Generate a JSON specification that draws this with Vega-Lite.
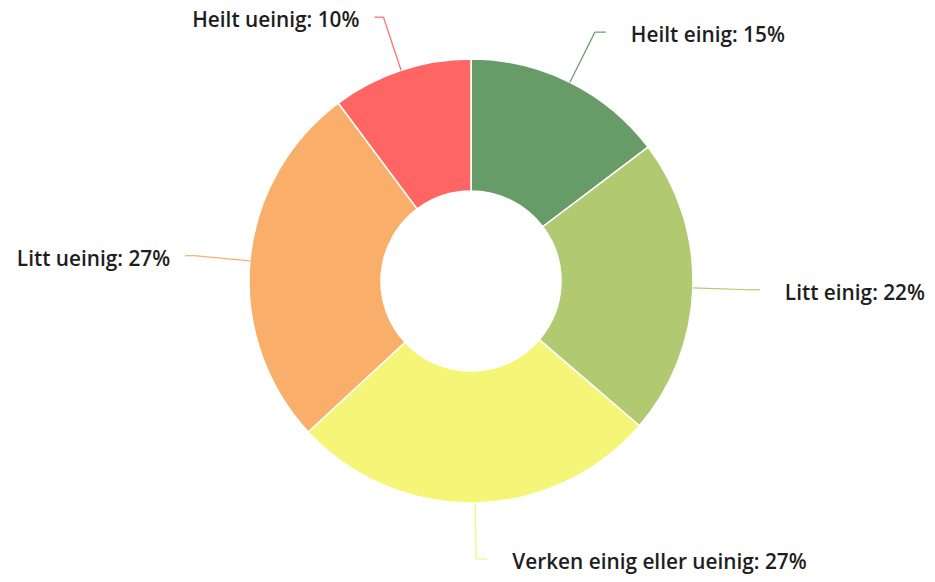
{
  "$schema": "https://vega.github.io/schema/vega-lite/v6.json",
  "width": 928,
  "height": 562,
  "autosize": {"type": "none"},
  "padding": {"left": 7, "top": 0, "right": 0, "bottom": 20},
  "background": "white",
  "config": {"view": {"stroke": null}},
  "data": {
    "values": [
      {"kategori": "Heilt einig", "andel": 14.7},
      {"kategori": "Litt einig", "andel": 21.6},
      {"kategori": "Verken einig eller ueinig", "andel": 26.8},
      {"kategori": "Litt ueinig", "andel": 26.7},
      {"kategori": "Heilt ueinig", "andel": 10.2}
    ]
  },
  "transform": [
    {"window": [{"op": "row_number", "as": "i"}]},
    {"window": [{"op": "sum", "field": "andel", "as": "cum"}], "sort": [{"field": "i"}], "frame": [null, 0]},
    {"joinaggregate": [{"op": "sum", "field": "andel", "as": "total"}]},
    {"calculate": "(datum.cum - datum.andel / 2) / datum.total * 2 * PI", "as": "mid"},
    {"calculate": "222 * sin(datum.mid)", "as": "x0"},
    {"calculate": "-222 * cos(datum.mid)", "as": "y0"},
    {"calculate": "278 * sin(datum.mid)", "as": "x1"},
    {"calculate": "-278 * cos(datum.mid)", "as": "y1"},
    {"calculate": "sin(datum.mid) >= 0 ? 'h' : 'v'", "as": "side"},
    {"calculate": "datum.x1 + (datum.side == 'h' ? 11 : -9)", "as": "x2"},
    {"calculate": "datum.kategori + ': ' + format(datum.andel, '.0f') + '%'", "as": "etikett"}
  ],
  "layer": [
    {
      "mark": {"type": "arc", "innerRadius": 90, "outerRadius": 222, "stroke": "white", "strokeWidth": 1.5},
      "encoding": {
        "theta": {"field": "andel", "type": "quantitative", "stack": true},
        "order": {"field": "i", "type": "quantitative"},
        "color": {
          "field": "kategori",
          "type": "nominal",
          "legend": null,
          "scale": {
            "domain": ["Heilt einig", "Litt einig", "Verken einig eller ueinig", "Litt ueinig", "Heilt ueinig"],
            "range": ["#679b67", "#b1ca71", "#f5f577", "#f9ae6a", "#ff6663"]
          }
        }
      }
    },
    {
      "mark": {"type": "rule", "strokeWidth": 1.2},
      "encoding": {
        "x": {"field": "x0", "type": "quantitative", "axis": null, "scale": {"domain": [-464, 464], "nice": false, "zero": false}},
        "y": {"field": "y0", "type": "quantitative", "axis": null, "scale": {"domain": [-281, 281], "nice": false, "zero": false, "reverse": true}},
        "x2": {"field": "x1"},
        "y2": {"field": "y1"},
        "color": {"field": "kategori", "type": "nominal", "legend": null}
      }
    },
    {
      "mark": {"type": "rule", "strokeWidth": 1.2},
      "encoding": {
        "x": {"field": "x1", "type": "quantitative", "axis": null, "scale": {"domain": [-464, 464], "nice": false, "zero": false}},
        "y": {"field": "y1", "type": "quantitative", "axis": null, "scale": {"domain": [-281, 281], "nice": false, "zero": false, "reverse": true}},
        "x2": {"field": "x2"},
        "y2": {"field": "y1"},
        "color": {"field": "kategori", "type": "nominal", "legend": null}
      }
    },
    {
      "transform": [{"filter": "datum.side == 'h'"}],
      "mark": {"type": "text", "align": "left", "baseline": "middle", "dx": 25, "dy": 4, "font": "Open Sans", "fontSize": 20.8, "fontWeight": 600, "fill": "#1e1e1e"},
      "encoding": {
        "x": {"field": "x2", "type": "quantitative", "axis": null, "scale": {"domain": [-464, 464], "nice": false, "zero": false}},
        "y": {"field": "y1", "type": "quantitative", "axis": null, "scale": {"domain": [-281, 281], "nice": false, "zero": false, "reverse": true}},
        "text": {"field": "etikett", "type": "nominal"}
      }
    },
    {
      "transform": [{"filter": "datum.side == 'v'"}],
      "mark": {"type": "text", "align": "right", "baseline": "middle", "dx": -15, "dy": 4, "font": "Open Sans", "fontSize": 20.8, "fontWeight": 600, "fill": "#1e1e1e"},
      "encoding": {
        "x": {"field": "x2", "type": "quantitative", "axis": null, "scale": {"domain": [-464, 464], "nice": false, "zero": false}},
        "y": {"field": "y1", "type": "quantitative", "axis": null, "scale": {"domain": [-281, 281], "nice": false, "zero": false, "reverse": true}},
        "text": {"field": "etikett", "type": "nominal"}
      }
    }
  ]
}
